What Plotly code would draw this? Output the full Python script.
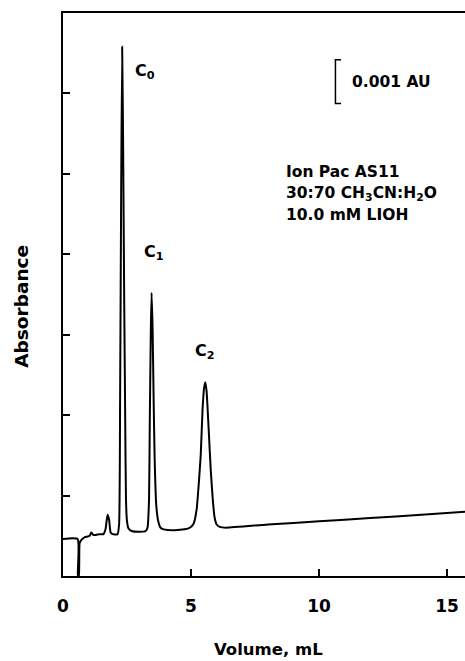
import plotly.graph_objects as go

# Chromatogram trace: elution volume (mL) and detector response (tick units)
volume_ml = [
    0.00, 0.57, 0.58, 0.60, 0.62, 0.65, 0.72, 0.84, 0.96, 1.04, 1.11, 1.19,
    1.43, 1.58, 1.66, 1.74, 1.80, 1.86, 1.94, 2.13, 2.19, 2.23, 2.27, 2.31,
    2.35, 2.39, 2.43, 2.46, 2.50, 2.56, 2.68, 2.99, 3.23, 3.30, 3.36, 3.39,
    3.43, 3.46, 3.50, 3.54, 3.58, 3.64, 3.72, 3.81, 3.93, 4.36, 4.75, 4.95,
    5.10, 5.22, 5.30, 5.38, 5.45, 5.51, 5.56, 5.61, 5.69, 5.77, 5.85, 5.92,
    6.00, 6.12, 6.36, 8.00, 10.00, 12.00, 14.00, 15.70,
]
response = [
    0.46, 0.46, 0.00, 0.00, 0.00, 0.41, 0.45, 0.48, 0.49, 0.50, 0.54, 0.51,
    0.52, 0.52, 0.58, 0.76, 0.70, 0.54, 0.52, 0.52, 0.64, 2.19, 4.68, 6.58,
    5.30, 3.43, 1.94, 0.95, 0.68, 0.59, 0.56, 0.55, 0.56, 0.60, 0.95, 1.94,
    3.06, 3.52, 3.06, 2.19, 1.45, 0.89, 0.68, 0.60, 0.58, 0.57, 0.58, 0.60,
    0.65, 0.83, 1.14, 1.51, 2.07, 2.34, 2.41, 2.29, 1.82, 1.32, 0.95, 0.73,
    0.64, 0.61, 0.60, 0.64, 0.68, 0.72, 0.76, 0.80,
]

# Peak labels
peak_names = ["C<sub>0</sub>", "C<sub>1</sub>", "C<sub>2</sub>"]
peak_label_x = [3.20, 3.55, 5.55]
peak_label_y = [6.27, 4.02, 2.79]

x_ticks = [0, 5, 10, 15]
y_ticks = [0, 1, 2, 3, 4, 5, 6, 7]

# Absorbance scale bar (0.001 AU expressed in tick units)
bar_x = 10.64
bar_top = 6.42
bar_len = 0.545
bar_label = "0.001 AU"

conditions = ["Ion Pac AS11", "30:70 CH<sub>3</sub>CN:H<sub>2</sub>O", "10.0 mM LIOH"]
cond_x = 8.62
cond_y = [5.02, 4.75, 4.49]

FONT = "DejaVu Sans, Verdana, sans-serif"

fig = go.Figure()
fig.add_trace(go.Scatter(
    x=volume_ml, y=response, mode="lines",
    line=dict(color="black", width=2, shape="spline", smoothing=0.5),
    hoverinfo="skip", showlegend=False,
))

annotations = []
for name, px, py in zip(peak_names, peak_label_x, peak_label_y):
    annotations.append(dict(
        x=px, y=py, xref="x", yref="y", text="<b>" + name + "</b>",
        showarrow=False, font=dict(family=FONT, size=16, color="black"),
        xanchor="center", yanchor="middle",
    ))

annotations.append(dict(
    x=bar_x + 0.55, y=bar_top - bar_len / 2, xref="x", yref="y",
    text="<b>" + bar_label + "</b>", showarrow=False,
    font=dict(family=FONT, size=15.5, color="black"),
    xanchor="left", yanchor="middle",
))

for line, ly in zip(conditions, cond_y):
    annotations.append(dict(
        x=cond_x, y=ly, xref="x", yref="y", text="<b>" + line + "</b>",
        showarrow=False, font=dict(family=FONT, size=15.5, color="black"),
        xanchor="left", yanchor="middle",
    ))

annotations.append(dict(
    x=0.51, y=-0.131, xref="paper", yref="paper", text="<b>Volume, mL</b>",
    showarrow=False, font=dict(family=FONT, size=16.5, color="black"),
    xanchor="center", yanchor="middle",
))
annotations.append(dict(
    x=-0.102, y=0.48, xref="paper", yref="paper", text="<b>Absorbance</b>",
    showarrow=False, textangle=-90, font=dict(family=FONT, size=18.5, color="black"),
    xanchor="center", yanchor="middle",
))

fig.update_layout(
    width=465, height=661,
    margin=dict(l=63, r=0, t=13, b=85),
    paper_bgcolor="white", plot_bgcolor="white",
    annotations=annotations,
    shapes=[
        dict(type="path", xref="x", yref="y",
             path=f"M {bar_x + 0.22} {bar_top} L {bar_x} {bar_top} "
                  f"L {bar_x} {bar_top - bar_len} L {bar_x + 0.22} {bar_top - bar_len}",
             line=dict(color="black", width=1.5)),
    ],
    xaxis=dict(
        range=[0, 15.7], tickvals=x_ticks, ticktext=[f"<b>{t}</b>" for t in x_ticks],
        ticks="inside", ticklen=7, tickwidth=1.5, tickcolor="black",
        showline=True, linecolor="black", linewidth=2, mirror=True,
        showgrid=False, zeroline=False,
        tickfont=dict(family=FONT, size=17, color="black"),
        ticklabelstandoff=14,
    ),
    yaxis=dict(
        range=[0, 7], tickvals=y_ticks, showticklabels=False,
        ticks="inside", ticklen=7, tickwidth=1.5, tickcolor="black",
        showline=True, linecolor="black", linewidth=2,
        showgrid=False, zeroline=False,
    ),
)

fig.write_html("out.html")
